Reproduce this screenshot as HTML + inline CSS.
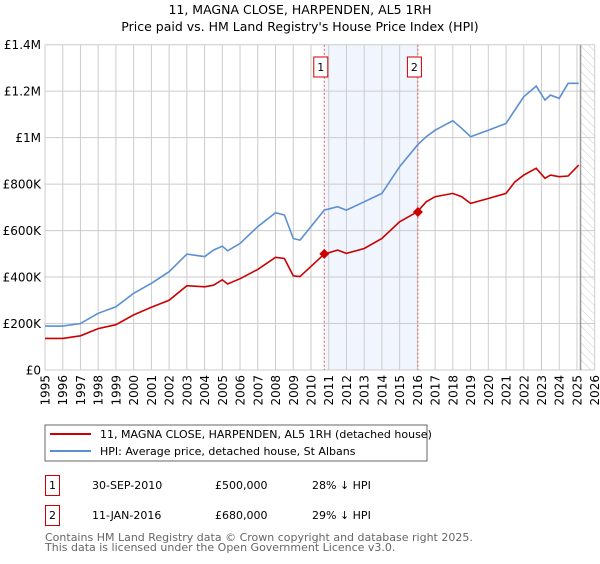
<!DOCTYPE html>
<html><head><meta charset="utf-8"><style>
body{margin:0;background:#fff;font-family:"DejaVu Sans","Liberation Sans",sans-serif;}
svg text{font-family:"DejaVu Sans","Liberation Sans",sans-serif;}
</style></head><body>
<svg id="c" width="600" height="560" xmlns="http://www.w3.org/2000/svg">
<defs><pattern id="hatch" width="6" height="6" patternUnits="userSpaceOnUse" patternTransform="rotate(-45)"><line x1="0" y1="0" x2="0" y2="6" stroke="#ccc" stroke-width="1"/></pattern></defs>
<text x="300" y="14" text-anchor="middle" font-size="12.5" fill="#000">11, MAGNA CLOSE, HARPENDEN, AL5 1RH</text>
<text x="300" y="31" text-anchor="middle" font-size="12.5" fill="#000">Price paid vs. HM Land Registry's House Price Index (HPI)</text>
<g id="plot"></g>
<g>
<rect x="45" y="425" width="382" height="36" fill="#fff" stroke="#666"/>
<line x1="50" y1="434" x2="91" y2="434" stroke="#cc0000" stroke-width="2"/>
<text x="100" y="438" font-size="11">11, MAGNA CLOSE, HARPENDEN, AL5 1RH (detached house)</text>
<line x1="50" y1="451" x2="91" y2="451" stroke="#5b8fd4" stroke-width="2"/>
<text x="100" y="455" font-size="11">HPI: Average price, detached house, St Albans</text>
</g>
<g font-size="11">
<rect x="45.5" y="475.5" width="14" height="20" fill="#fff" stroke="#cc0000"/>
<text x="52.5" y="489" text-anchor="middle">1</text>
<text x="92" y="489">30-SEP-2010</text>
<text x="215" y="489">£500,000</text>
<text x="312" y="489">28% ↓ HPI</text>
<rect x="45.5" y="505.5" width="14" height="20" fill="#fff" stroke="#cc0000"/>
<text x="52.5" y="519" text-anchor="middle">2</text>
<text x="92" y="519">11-JAN-2016</text>
<text x="215" y="519">£680,000</text>
<text x="312" y="519">29% ↓ HPI</text>
</g>
<text x="45" y="541" font-size="11" fill="#666">Contains HM Land Registry data © Crown copyright and database right 2025.</text>
<text x="45" y="551" font-size="11" fill="#666">This data is licensed under the Open Government Licence v3.0.</text>
</svg>
<script>
const hpiYears=[1995,1996,1997,1998,1999,2000,2001,2002,2003,2004,2004.5,2005,2005.3,2006,2007,2008,2008.5,2009,2009.38,2010.75,2011.5,2012,2013,2014,2015,2016,2016.5,2017,2018,2018.5,2019,2020,2021,2021.5,2022,2022.7,2023.2,2023.5,2024,2024.5,2025.1];
const hpiValues=[189,189,200,244,272,330,373,423,499,488,516,533,513,545,617,677,667,566,559,688,703,688,724,760,875,968,1004,1032,1073,1040,1004,1032,1061,1119,1176,1222,1162,1183,1169,1234,1234];
const propValues=[136,136,147,178,195,237,270,300,363,358,365,388,370,393,433,485,480,405,402,499,516,502,523,566,638,681,724,746,760,746,717,738,760,810,839,868,825,839,832,835,882];
const saleYears=[2010.75,2016.03];
const saleValues=[500,680];
const saleLabels=["1","2"];
const yTicks=[0,200,400,600,800,1000,1200,1400];
const yTickLabels=["£0","£200K","£400K","£600K","£800K","£1M","£1.2M","£1.4M"];
const xTicks=[1995,1996,1997,1998,1999,2000,2001,2002,2003,2004,2005,2006,2007,2008,2009,2010,2011,2012,2013,2014,2015,2016,2017,2018,2019,2020,2021,2022,2023,2024,2025,2026];
const X0=45,X1=594.7,Y0=370,Y1=44.7;
const xs=y=>X0+(y-1995)/(2026-1995)*(X1-X0);
const ys=v=>Y0-v/1400*(Y0-Y1);
const NS="http://www.w3.org/2000/svg";
const g=document.getElementById('plot');
function mk(t,a){const e=document.createElementNS(NS,t);for(const k in a)e.setAttribute(k,a[k]);g.appendChild(e);return e;}
let r=mk('rect',{x:xs(saleYears[0]),y:Y1,width:xs(saleYears[1])-xs(saleYears[0]),height:Y0-Y1,fill:'#eef3fd',opacity:0.8});


let h=mk('rect',{x:xs(2025.2),y:Y1,width:X1-xs(2025.2),height:Y0-Y1,fill:'url(#hatch)'});


yTicks.forEach((v,i)=>{
 let l=mk('line',{x1:X0,x2:X1,y1:ys(v),y2:ys(v),stroke:'#ccc','stroke-width':1});
 
 
 let t=mk('text',{x:X0-4,y:ys(v)+4.5,'text-anchor':'end','font-size':'12'});
 t.textContent=yTickLabels[i];
 
 
});
xTicks.forEach(y=>{
 let l=mk('line',{x1:xs(y),x2:xs(y),y1:Y1,y2:Y0,stroke:'#ccc','stroke-width':1});
 
 
 let t=mk('text',{x:0,y:0,'text-anchor':'end','font-size':'12',transform:`translate(${xs(y)+4.5},${Y0+5}) rotate(-90)`});
 t.textContent=y;
 
 
});
let vl=mk('line',{x1:xs(2025.2),x2:xs(2025.2),y1:Y1,y2:Y0,stroke:'#999','stroke-width':1.5});


saleYears.forEach((s,i)=>{
 let l=mk('line',{x1:xs(s),x2:xs(s),y1:Y1,y2:Y0,stroke:'#e06060','stroke-width':1,'stroke-dasharray':'2,2'});
 
 
 let b=mk('rect',{x:xs(s)-10.5,y:57,width:14,height:20,fill:'#fff',stroke:'#cc0000'});
 
 
 let t=mk('text',{x:xs(s)-3.5,y:71,'text-anchor':'middle','font-size':'11'});
 t.textContent=saleLabels[i];
 
 
});
const pts=v=>hpiYears.map((y,i)=>xs(y).toFixed(1)+','+ys(v[i]).toFixed(1)).join(' ');
let hp=mk('polyline',{points:pts(hpiValues),fill:'none',stroke:'#5b8fd4','stroke-width':1.6});


let pp=mk('polyline',{points:pts(propValues),fill:'none',stroke:'#cc0000','stroke-width':1.6});


saleYears.forEach((s,i)=>{
 const cx=xs(s),cy=ys(saleValues[i]);
 let d=mk('polygon',{points:`${cx},${cy-5} ${cx+5},${cy} ${cx},${cy+5} ${cx-5},${cy}`,fill:'#cc0000'});
 
 
});
</script>
</body></html>
